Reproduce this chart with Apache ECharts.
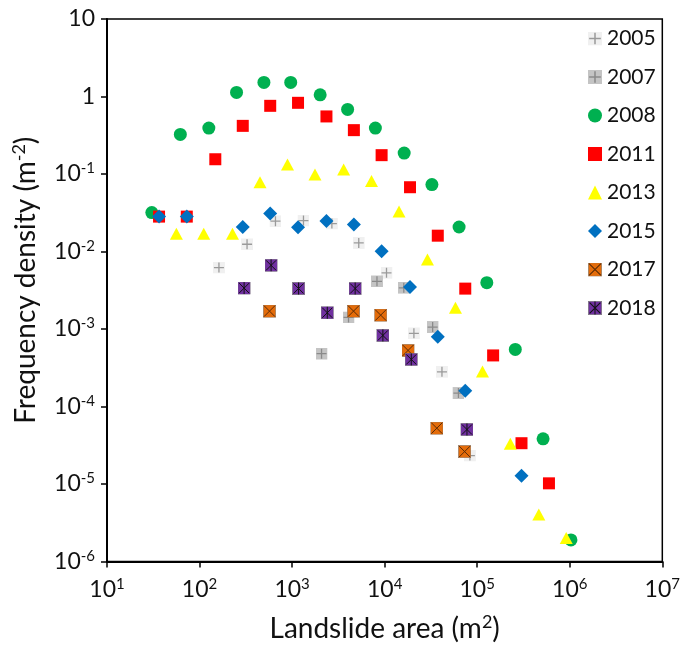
<!DOCTYPE html>
<html>
<head>
<meta charset="utf-8">
<script src="https://cdn.jsdelivr.net/npm/echarts@6/dist/echarts.min.js"></script>
<style>
html,body{margin:0;padding:0;background:#fff;}
#chart{width:683px;height:648px;}
</style>
</head>
<body>
<div id="chart"></div>
<script>
// ---- data (landslide area m^2, frequency density m^-2) ----
const years = ['2005', '2007', '2008', '2011', '2013', '2015', '2017', '2018'];
const yr2005 = [[162,0.0062],[326,0.0124],[661,0.0246],[1327,0.0251],[2690,0.0229],[5250,0.0129],[10470,0.0053],[20700,0.00088],[41600,0.00028],[83400,0.0000233]];
const yr2007 = [[2080,0.00048],[4070,0.00141],[8260,0.00412],[16100,0.0034],[33000,0.00106],[62700,0.000149]];
const yr2008 = [[30.5,0.0318],[62,0.324],[126,0.391],[251,1.13],[496,1.52],[966,1.52],[2010,1.05],[3980,0.681],[7940,0.391],[16250,0.186],[32400,0.0731],[63700,0.0207],[127000,0.00396],[258000,0.000545],[515000,0.0000383],[1030000,0.0000019]];
const yr2011 = [[36.5,0.0282],[72.8,0.0282],[148,0.155],[293,0.418],[580,0.758],[1159,0.829],[2350,0.553],[4650,0.368],[9270,0.175],[18800,0.0675],[37500,0.016],[74300,0.00332],[148600,0.000456],[301000,0.0000336],[596000,0.0000102]];
const yr2013 = [[56.2,0.017],[111,0.017],[227,0.017],[450,0.0784],[892,0.133],[1767,0.0986],[3606,0.114],[7210,0.0815],[14300,0.0328],[29000,0.00786],[58200,0.00188],[114000,0.000283],[228000,0.000033],[463000,0.00000403],[916000,0.00000201]];
const yr2015 = [[36.5,0.0282],[72.8,0.0282],[293,0.0207],[580,0.0309],[1159,0.0205],[2350,0.0248],[4650,0.0223],[9270,0.01007],[18800,0.00348],[37500,0.000796],[74300,0.00016],[301000,0.0000128]];
const yr2017 = [[570,0.0017],[4610,0.0017],[9060,0.00151],[17900,0.000529],[36600,0.0000525],[73100,0.0000262]];
const yr2018 = [[303,0.00337],[593,0.00663],[1175,0.00333],[2400,0.00162],[4800,0.00333],[9570,0.000826],[19400,0.000405],[77500,0.0000505]];
const xTickExponents = [1, 2, 3, 4, 5, 6, 7];
const yTickExponents = [-6, -5, -4, -3, -2, -1, 0, 1];

// ---- marker images ----
function svgSym(svg) {
  return 'image://data:image/svg+xml;charset=utf-8,' + encodeURIComponent(svg);
}
const sym2005 = svgSym('<svg xmlns="http://www.w3.org/2000/svg" width="24" height="24" viewBox="0 0 12 12"><rect x="0" y="0" width="12" height="12" fill="#f0f0f0"/><path d="M6 1V11M1 6H11" stroke="#9a9a9a" stroke-width="1.3"/></svg>');
const sym2007 = svgSym('<svg xmlns="http://www.w3.org/2000/svg" width="24" height="24" viewBox="0 0 12 12"><rect x="0" y="0" width="12" height="12" fill="#c4c4c4"/><path d="M6 1V11M1 6H11" stroke="#8a8a8a" stroke-width="1.3"/></svg>');
const sym2017 = svgSym('<svg xmlns="http://www.w3.org/2000/svg" width="26" height="26" viewBox="0 0 13 13"><rect x="0.3" y="0.3" width="12.4" height="12.4" fill="#e46c0a" stroke="#8a7a6a" stroke-width="0.6"/><path d="M1 1L12 12M12 1L1 12" stroke="#5a2c08" stroke-width="1"/></svg>');
const sym2018 = svgSym('<svg xmlns="http://www.w3.org/2000/svg" width="26" height="26" viewBox="0 0 13 13"><rect x="0.3" y="0.3" width="12.4" height="12.4" fill="#7030a0" stroke="#777" stroke-width="0.6"/><path d="M1.5 1.5L11.5 11.5M11.5 1.5L1.5 11.5M6.5 0.5V12.5" stroke="#111" stroke-width="1"/></svg>');

const seriesDefs = [
  { name: '2005', data: yr2005, symbol: sym2005, size: 12, color: '#d0d0d0' },
  { name: '2007', data: yr2007, symbol: sym2007, size: 12, color: '#b0b0b0' },
  { name: '2008', data: yr2008, symbol: 'circle', size: 13, color: '#00b050' },
  { name: '2011', data: yr2011, symbol: 'rect', size: 12, color: '#ff0000' },
  { name: '2013', data: yr2013, symbol: 'triangle', size: [13, 12], color: '#ffff00' },
  { name: '2015', data: yr2015, symbol: 'diamond', size: [14, 14], color: '#0070c0' },
  { name: '2017', data: yr2017, symbol: sym2017, size: 13, color: '#e46c0a' },
  { name: '2018', data: yr2018, symbol: sym2018, size: 13, color: '#7030a0' }
];

const FONT = 'Lato';

function expLabel(v, plainSmall) {
  const e = Math.round(Math.log10(v));
  if (plainSmall && e === 1) return '{b|10}';
  if (plainSmall && e === 0) return '{b|1}';
  return '{b|10}{s|' + e + '}';
}
const richTick = {
  b: { fontFamily: FONT, fontSize: 23, color: '#111' },
  s: { fontFamily: FONT, fontSize: 15, color: '#111', padding: [0, 0, 11, 0] }
};
const richName = { sup: { fontFamily: FONT, fontSize: 18, color: '#111', padding: [0, 0, 13, 0] } };

const chart = echarts.init(document.getElementById('chart'));
chart.setOption({
  animation: false,
  backgroundColor: '#fff',
  grid: {
    left: 107, right: 10, top: 19, bottom: 85,
    show: true, borderColor: '#000', borderWidth: 1.5
  },
  legend: {
    orient: 'vertical',
    left: 588, top: 28,
    padding: 0,
    itemWidth: 14, itemHeight: 14, itemGap: 17.5,
    data: years,
    textStyle: { fontFamily: FONT, fontSize: 21, color: '#111' }
  },
  xAxis: {
    type: 'log', logBase: 10, min: 10, max: 10000000, interval: 1,
    name: 'Landslide area (m{sup|2})',
    nameLocation: 'middle', nameGap: 52,
    nameTextStyle: { fontFamily: FONT, fontSize: 28, color: '#111', rich: richName },
    axisLine: { lineStyle: { color: '#000', width: 2 } },
    axisTick: { show: true, inside: false, length: 6, lineStyle: { color: '#000', width: 1.5 } },
    splitLine: { show: false },
    axisLabel: {
      margin: 15,
      formatter: function (v) { return expLabel(v, false); },
      rich: richTick
    }
  },
  yAxis: {
    type: 'log', logBase: 10, min: 0.000001, max: 10, interval: 1,
    name: 'Frequency density (m{sup|-2})',
    nameLocation: 'middle', nameGap: 66, nameRotate: 90,
    nameTextStyle: { fontFamily: FONT, fontSize: 28, color: '#111', rich: richName, padding: [0, 0, 0, 20] },
    axisLine: { lineStyle: { color: '#000', width: 2 } },
    axisTick: { show: true, inside: false, length: 6, lineStyle: { color: '#000', width: 1.5 } },
    splitLine: { show: false },
    axisLabel: {
      margin: 12,
      formatter: function (v) { return expLabel(v, true); },
      rich: richTick
    }
  },
  series: seriesDefs.map(function (d, i) {
    return {
      name: d.name,
      type: 'scatter',
      data: d.data,
      symbol: d.symbol,
      symbolSize: d.size,
      z: 2 + i,
      itemStyle: { color: d.color, opacity: 1 }
    };
  })
});
</script>
</body>
</html>
